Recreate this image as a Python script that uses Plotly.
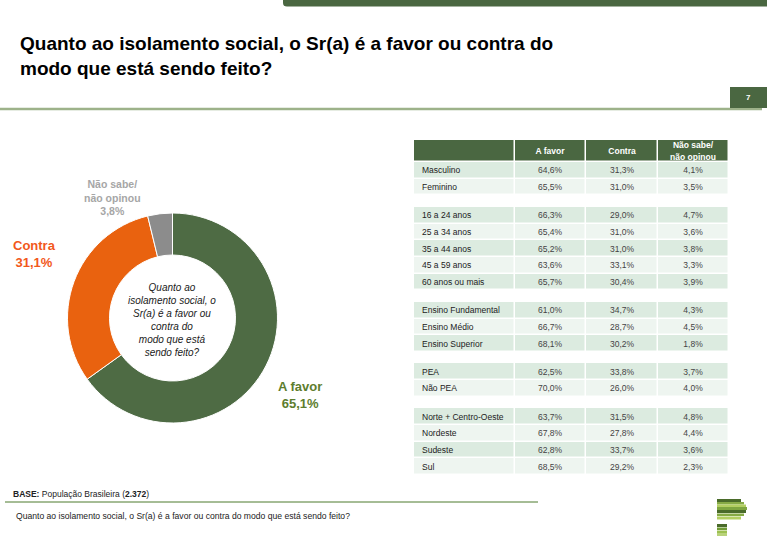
import plotly.graph_objects as go

# ---- dados ----
pie_labels = ["A favor", "Contra", "Não sabe/ não opinou"]
pie_values = [65.1, 31.1, 3.8]
pie_colors = ["#4e6b44", "#e9620f", "#8c8c8c"]

col_headers = ["A favor", "Contra", "Não sabe/<br>não opinou"]

groups = [
    ["Masculino", "Feminino"],
    ["16 a 24 anos", "25 a 34 anos", "35 a 44 anos", "45 a 59 anos", "60 anos ou mais"],
    ["Ensino Fundamental", "Ensino Médio", "Ensino Superior"],
    ["PEA", "Não PEA"],
    ["Norte + Centro-Oeste", "Nordeste", "Sudeste", "Sul"],
]
a_favor = [
    [64.6, 65.5],
    [66.3, 65.4, 65.2, 63.6, 65.7],
    [61.0, 66.7, 68.1],
    [62.5, 70.0],
    [63.7, 67.8, 62.8, 68.5],
]
contra = [
    [31.3, 31.0],
    [29.0, 31.0, 31.0, 33.1, 30.4],
    [34.7, 28.7, 30.2],
    [33.8, 26.0],
    [31.5, 27.8, 33.7, 29.2],
]
nao_sabe = [
    [4.1, 3.5],
    [4.7, 3.6, 3.8, 3.3, 3.9],
    [4.3, 4.5, 1.8],
    [3.7, 4.0],
    [4.8, 4.4, 3.6, 2.3],
]

W, H = 767, 540
FONT = "Liberation Sans, Arial, sans-serif"
GREEN = "#4a6741"


def px(x):
    return x / W


def py(y):
    return 1 - y / H


def fmt(v):
    return f"{v:.1f}%".replace(".", ",")


# ---- tabela como heatmap (linhas de altura 1, espacos entre grupos) ----
HEAD_H, ROW_H, GAP_H = 1.32, 1.0, 0.69
col_w = [1.41, 1.0, 1.0, 1.0]
x_edges = [0]
for w in col_w:
    x_edges.append(x_edges[-1] + w)

y_edges = [0, HEAD_H]
z, txt = [[2, 2, 2, 2]], [["", *["<b>%s</b>" % h for h in col_headers]]]
tickvals, ticktext = [], []
for gi, g in enumerate(groups):
    if gi > 0:
        y_edges.append(y_edges[-1] + GAP_H)
        z.append([None] * 4)
        txt.append([""] * 4)
    for ri, lab in enumerate(g):
        top = y_edges[-1]
        y_edges.append(top + ROW_H)
        shade = 1 if ri % 2 == 0 else 0
        z.append([shade] * 4)
        txt.append(["", fmt(a_favor[gi][ri]), fmt(contra[gi][ri]), fmt(nao_sabe[gi][ri])])
        tickvals.append(top + ROW_H / 2)
        ticktext.append(lab)

fig = go.Figure()

fig.add_trace(go.Heatmap(
    x=x_edges, y=y_edges, z=z, text=txt, texttemplate="%{text}",
    textfont=dict(family=FONT, size=8.5),
    colorscale=[[0, "#eef5f0"], [0.5, "#dcebe0"], [1, GREEN]],
    zmin=0, zmax=2, showscale=False, xgap=1.5, ygap=1.5,
    hoverinfo="skip", xaxis="x", yaxis="y",
))

fig.add_trace(go.Pie(
    labels=pie_labels, values=pie_values, sort=False, direction="clockwise",
    hole=0.6, textinfo="none", hoverinfo="label+percent",
    marker=dict(colors=pie_colors, line=dict(color="white", width=1)),
    domain=dict(x=[px(67.5), px(277.5)], y=[py(423), py(213)]),
    showlegend=False,
))

shapes = [
    # barra superior
    dict(type="path", xref="paper", yref="paper",
         path=f"M {px(283)},1 L 1,1 L 1,{py(6.5)} L {px(287)},{py(6.5)} "
              f"Q {px(283)},{py(6.5)} {px(283)},{py(3)} Z",
         fillcolor=GREEN, line=dict(width=0)),
    # linha sob o titulo
    dict(type="line", xref="paper", yref="paper", x0=0, x1=px(762), y0=py(109), y1=py(109),
         line=dict(color="#9db28a", width=2.5)),
    # caixa do numero da pagina
    dict(type="rect", xref="paper", yref="paper", x0=px(730), x1=1, y0=py(108), y1=py(87),
         fillcolor=GREEN, line=dict(width=0)),
    # linha da base
    dict(type="line", xref="paper", yref="paper", x0=px(5), x1=px(538), y0=py(502), y1=py(502),
         line=dict(color="#4d7a2c", width=1)),
]

# logo
logo = [(499, 502, 741, "#4a6b2a"), (502, 504.5, 744, "#86aa45"), (504.5, 507, 746, "#b3cf62"),
        (507, 510, 747, "#7fa640"), (510, 513, 746, "#4a6b2a"), (513.5, 516, 744, "#86aa45"),
        (516.5, 519.5, 741, "#b3cf62"), (524, 527, 727, "#4a6b2a"), (527.5, 530, 727, "#6f9a35"),
        (530.5, 533, 727, "#9cc050"), (533, 536, 727, "#b8d27a")]
for y0, y1, x1, c in logo:
    shapes.append(dict(type="rect", xref="paper", yref="paper", x0=px(717), x1=px(x1),
                       y0=py(y1), y1=py(y0), fillcolor=c, line=dict(width=0)))


def ann(x, y, text, size, color="#000", xanchor="center", align="center", yanchor="middle"):
    return dict(x=px(x), y=py(y), xref="paper", yref="paper", text=text, showarrow=False,
                xanchor=xanchor, yanchor=yanchor, align=align,
                font=dict(family=FONT, size=size, color=color))


annotations = [
    ann(18, 56, "<b>Quanto ao isolamento social, o Sr(a) é a favor ou contra do<br>"
                "modo que está sendo feito?</b>", 19, "#000", xanchor="left", align="left"),
    ann(748, 97.5, "<b>7</b>", 8, "white"),
    ann(113, 197.5, "<b>Não sabe/<br>não opinou<br>3,8%</b>", 10.5, "#a6a6a6"),
    ann(34, 253.5, "<b>Contra<br>31,1%</b>", 13, "#f2581b"),
    ann(300, 394.5, "<b>A favor<br>65,1%</b>", 13, "#5d7d2e"),
    ann(172, 320, "<i>Quanto ao<br>isolamento social, o<br>Sr(a) é a favor ou<br>contra do<br>"
                  "modo que está<br>sendo feito?</i>", 10, "#1a1a1a"),
    ann(11, 494, "<b>BASE:</b> População Brasileira (<b>2.372</b>)", 8.5, "#222", xanchor="left",
        align="left"),
    ann(14, 516, "Quanto ao isolamento social, o Sr(a) é a favor ou contra do modo que está sendo feito?",
        8.6, "#222", xanchor="left", align="left"),
]

fig.update_layout(
    width=W, height=H, margin=dict(l=0, r=0, t=0, b=0),
    paper_bgcolor="white", plot_bgcolor="white",
    font=dict(family=FONT),
    xaxis=dict(domain=[px(414), px(729)], range=[0, x_edges[-1]], visible=False, fixedrange=True),
    yaxis=dict(domain=[py(475), py(140)], range=[y_edges[-1], 0], showgrid=False, zeroline=False,
               showline=False, ticks="", tickvals=tickvals, ticktext=ticktext,
               ticklabelposition="inside", ticklabelstandoff=5,
               tickfont=dict(family=FONT, size=8.5, color="#222"), fixedrange=True),
    shapes=shapes, annotations=annotations, showlegend=False,
)

# sem margem do body, para a figura ocupar a janela toda
fig.write_html("out.html", config=dict(displayModeBar=False),
               post_script="document.body.style.margin='0';")
